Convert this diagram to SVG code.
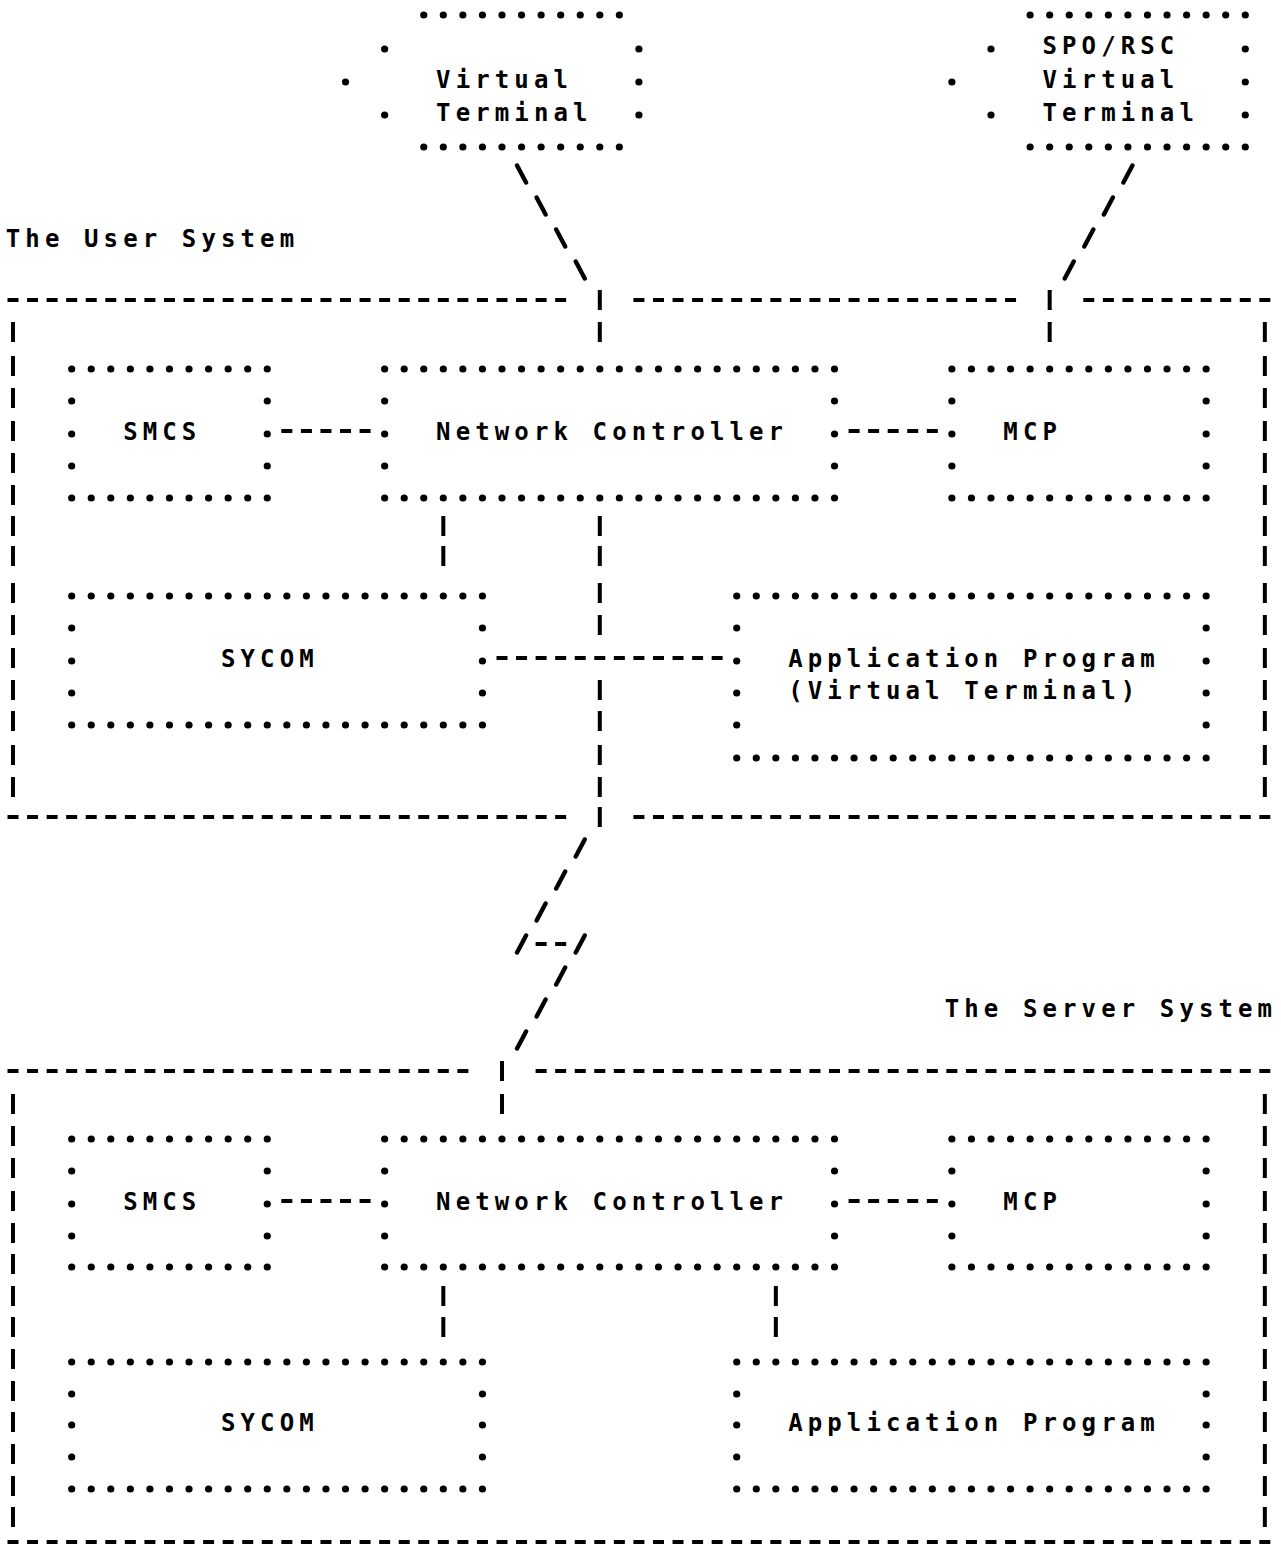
<svg xmlns="http://www.w3.org/2000/svg" width="1281" height="1546" viewBox="0 0 1281 1546">
<style>
.t{font-family:"DejaVu Sans Mono","Liberation Mono",monospace;font-size:24px;font-weight:bold;letter-spacing:5.11px;fill:#000}
.dl{stroke:#000;stroke-width:7.2;stroke-linecap:round;stroke-dasharray:0 19.56;fill:none}
.dd{stroke:#000;stroke-width:4.2;stroke-dasharray:11 8.56;fill:none}
.b{stroke:#000;stroke-width:4;fill:none}
.s{stroke:#000;stroke-width:4.4;stroke-linecap:round;fill:none}
</style>
<defs><circle id="dot" r="3.6" fill="#000"/></defs>
<rect width="1281" height="1546" fill="#fff"/>

<g id="user-system">
<text class="t" x="5.8" y="246.5">The User System</text>
<path class="dd" d="M7.5 300H566.18M633.42 300H1016.06M1083.3 300H1270.34M7.5 817H566.18M633.42 817H1270.34"/>
<path class="b" d="M13 322v20M13 356v20M13 388v20M13 421v20M13 453v20M13 485v20M13 516v20M13 546v20M13 583v20M13 615v20M13 648v20M13 680v20M13 711v20M13 745v20M13 777v20M1264.84 322v20M1264.84 356v20M1264.84 388v20M1264.84 421v20M1264.84 453v20M1264.84 485v20M1264.84 516v20M1264.84 546v20M1264.84 583v20M1264.84 615v20M1264.84 648v20M1264.84 680v20M1264.84 711v20M1264.84 745v20M1264.84 777v20"/>
</g>

<g id="server-system">
<text class="t" x="944.68" y="1016.5">The Server System</text>
<path class="dd" d="M7.5 1071H468.38M535.62 1071H1270.34M7.5 1542H1270.34"/>
<path class="b" d="M13 1094v20M13 1126v20M13 1158v20M13 1191v20M13 1223v20M13 1254v20M13 1286v20M13 1317v20M13 1349v20M13 1381v20M13 1412v20M13 1444v20M13 1476v20M13 1507v20M1264.84 1094v20M1264.84 1126v20M1264.84 1158v20M1264.84 1191v20M1264.84 1223v20M1264.84 1254v20M1264.84 1286v20M1264.84 1317v20M1264.84 1349v20M1264.84 1381v20M1264.84 1412v20M1264.84 1444v20M1264.84 1476v20M1264.84 1507v20"/>
</g>

<g id="vt-user">
<path class="dl" d="M423.76 15H619.86M423.76 147H619.86"/>
<use href="#dot" x="384.64" y="49"/><use href="#dot" x="638.92" y="49"/>
<use href="#dot" x="345.52" y="82"/><use href="#dot" x="638.92" y="82"/>
<use href="#dot" x="384.64" y="115"/><use href="#dot" x="638.92" y="115"/>
<text class="t" x="436.12" y="87.5">Virtual</text>
<text class="t" x="436.12" y="120.5">Terminal</text>
</g>

<g id="vt-spo">
<path class="dl" d="M1030.12 15H1245.78M1030.12 147H1245.78"/>
<use href="#dot" x="991" y="49"/><use href="#dot" x="1245.28" y="49"/>
<use href="#dot" x="951.88" y="82"/><use href="#dot" x="1245.28" y="82"/>
<use href="#dot" x="991" y="115"/><use href="#dot" x="1245.28" y="115"/>
<text class="t" x="1042.48" y="53.5">SPO/RSC</text>
<text class="t" x="1042.48" y="87.5">Virtual</text>
<text class="t" x="1042.48" y="120.5">Terminal</text>
</g>

<g id="smcs-user">
<path class="dl" d="M71.68 369H267.78M71.68 498H267.78"/>
<use href="#dot" x="71.68" y="401"/><use href="#dot" x="267.28" y="401"/>
<use href="#dot" x="71.68" y="434"/><use href="#dot" x="267.28" y="434"/>
<use href="#dot" x="71.68" y="466"/><use href="#dot" x="267.28" y="466"/>
<text class="t" x="123.16" y="439.5">SMCS</text>
</g>

<g id="nc-user">
<path class="dl" d="M384.64 369H835.02M384.64 498H835.02"/>
<use href="#dot" x="384.64" y="401"/><use href="#dot" x="834.52" y="401"/>
<use href="#dot" x="384.64" y="434"/><use href="#dot" x="834.52" y="434"/>
<use href="#dot" x="384.64" y="466"/><use href="#dot" x="834.52" y="466"/>
<text class="t" x="436.12" y="439.5">Network Controller</text>
</g>

<g id="mcp-user">
<path class="dl" d="M951.88 369H1206.66M951.88 498H1206.66"/>
<use href="#dot" x="951.88" y="401"/><use href="#dot" x="1206.16" y="401"/>
<use href="#dot" x="951.88" y="434"/><use href="#dot" x="1206.16" y="434"/>
<use href="#dot" x="951.88" y="466"/><use href="#dot" x="1206.16" y="466"/>
<text class="t" x="1003.36" y="439.5">MCP</text>
</g>

<g id="sycom-user">
<path class="dl" d="M71.68 596H482.94M71.68 725H482.94"/>
<use href="#dot" x="71.68" y="628"/><use href="#dot" x="482.44" y="628"/>
<use href="#dot" x="71.68" y="661"/><use href="#dot" x="482.44" y="661"/>
<use href="#dot" x="71.68" y="693"/><use href="#dot" x="482.44" y="693"/>
<text class="t" x="220.96" y="666.5">SYCOM</text>
</g>

<g id="app-user">
<path class="dl" d="M736.72 596H1206.66M736.72 758H1206.66"/>
<use href="#dot" x="736.72" y="628"/><use href="#dot" x="1206.16" y="628"/>
<use href="#dot" x="736.72" y="661"/><use href="#dot" x="1206.16" y="661"/>
<use href="#dot" x="736.72" y="693"/><use href="#dot" x="1206.16" y="693"/>
<use href="#dot" x="736.72" y="725"/><use href="#dot" x="1206.16" y="725"/>
<text class="t" x="788.2" y="666.5">Application Program</text>
<text class="t" x="788.2" y="698.5">(Virtual Terminal)</text>
</g>

<g id="smcs-server">
<path class="dl" d="M71.68 1139H267.78M71.68 1267H267.78"/>
<use href="#dot" x="71.68" y="1171"/><use href="#dot" x="267.28" y="1171"/>
<use href="#dot" x="71.68" y="1204"/><use href="#dot" x="267.28" y="1204"/>
<use href="#dot" x="71.68" y="1236"/><use href="#dot" x="267.28" y="1236"/>
<text class="t" x="123.16" y="1209.5">SMCS</text>
</g>

<g id="nc-server">
<path class="dl" d="M384.64 1139H835.02M384.64 1267H835.02"/>
<use href="#dot" x="384.64" y="1171"/><use href="#dot" x="834.52" y="1171"/>
<use href="#dot" x="384.64" y="1204"/><use href="#dot" x="834.52" y="1204"/>
<use href="#dot" x="384.64" y="1236"/><use href="#dot" x="834.52" y="1236"/>
<text class="t" x="436.12" y="1209.5">Network Controller</text>
</g>

<g id="mcp-server">
<path class="dl" d="M951.88 1139H1206.66M951.88 1267H1206.66"/>
<use href="#dot" x="951.88" y="1171"/><use href="#dot" x="1206.16" y="1171"/>
<use href="#dot" x="951.88" y="1204"/><use href="#dot" x="1206.16" y="1204"/>
<use href="#dot" x="951.88" y="1236"/><use href="#dot" x="1206.16" y="1236"/>
<text class="t" x="1003.36" y="1209.5">MCP</text>
</g>

<g id="sycom-server">
<path class="dl" d="M71.68 1362H482.94M71.68 1489H482.94"/>
<use href="#dot" x="71.68" y="1394"/><use href="#dot" x="482.44" y="1394"/>
<use href="#dot" x="71.68" y="1425"/><use href="#dot" x="482.44" y="1425"/>
<use href="#dot" x="71.68" y="1457"/><use href="#dot" x="482.44" y="1457"/>
<text class="t" x="220.96" y="1430.5">SYCOM</text>
</g>

<g id="app-server">
<path class="dl" d="M736.72 1362H1206.66M736.72 1489H1206.66"/>
<use href="#dot" x="736.72" y="1394"/><use href="#dot" x="1206.16" y="1394"/>
<use href="#dot" x="736.72" y="1425"/><use href="#dot" x="1206.16" y="1425"/>
<use href="#dot" x="736.72" y="1457"/><use href="#dot" x="1206.16" y="1457"/>
<text class="t" x="788.2" y="1430.5">Application Program</text>
</g>

<g id="connectors">
<path class="s" d="M517.06 165.5L526.06 182.5M536.62 197.5L545.62 214.5M556.18 229.5L565.18 246.5M575.74 261.5L584.74 278.5"/>
<path class="s" d="M1123.42 182.5L1132.42 165.5M1103.86 214.5L1112.86 197.5M1084.3 246.5L1093.3 229.5M1064.74 278.5L1073.74 261.5"/>
<path class="b" d="M599.8 290v20M599.8 322v20M1049.68 290v20M1049.68 322v20"/>
<path class="dd" d="M281.34 431H370.58M848.58 431H937.82"/>
<path class="b" d="M443.32 516v20M443.32 546v20"/>
<path class="b" d="M599.8 516v20M599.8 546v20M599.8 583v20M599.8 615v20M599.8 680v20M599.8 711v20M599.8 745v20M599.8 777v20M599.8 807v20"/>
<path class="dd" d="M496.5 658H722.66"/>
<path class="s" d="M575.74 856.5L584.74 839.5M556.18 888.5L565.18 871.5M536.62 920.5L545.62 903.5M517.06 952.5L526.06 935.5M575.74 952.5L584.74 935.5M556.18 984.5L565.18 967.5M536.62 1016.5L545.62 999.5M517.06 1048.5L526.06 1031.5"/>
<path class="dd" d="M535.62 944H566.18"/>
<path class="b" d="M502 1061v20M502 1094v20"/>
<path class="dd" d="M281.34 1201H370.58M848.58 1201H937.82"/>
<path class="b" d="M443.32 1286v20M443.32 1317v20M775.84 1286v20M775.84 1317v20"/>
</g>
</svg>
